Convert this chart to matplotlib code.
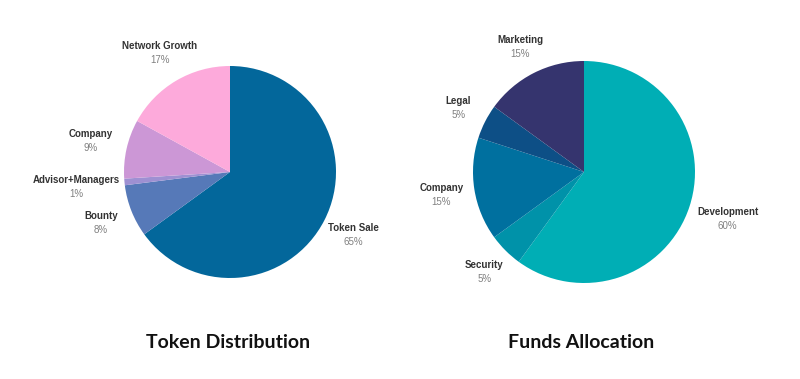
import numpy as np
import matplotlib
matplotlib.use("Agg")
import matplotlib.pyplot as plt

# --- data ---
token_labels = ["Token Sale", "Bounty", "Advisor+Managers", "Company", "Network Growth"]
token_values = [65, 8, 1, 9, 17]
token_colors = ["#03679b", "#5679b8", "#9e90d2", "#cc97d6", "#fdaadb"]

funds_labels = ["Development", "Security", "Company", "Legal", "Marketing"]
funds_values = [60, 5, 15, 5, 15]
funds_colors = ["#00aeb5", "#0092a9", "#00709f", "#0d4f86", "#35346e"]

W, H = 800, 379
fig = plt.figure(figsize=(W / 100, H / 100), dpi=100)
ax = fig.add_axes([0, 0, 1, 1])


def draw_pie(values, labels, colors, cx, cy, r, dists, title, tx):
    wedges, _ = ax.pie(values, colors=colors, startangle=90, counterclock=False,
                       center=(cx, H - cy), radius=r, frame=True,
                       wedgeprops=dict(linewidth=0))
    for w, lab, v, d in zip(wedges, labels, values, dists):
        ang = np.deg2rad((w.theta1 + w.theta2) / 2)
        x = cx + r * d * np.cos(ang)
        y = H - cy + r * d * np.sin(ang)
        ax.text(x, y + 7, lab, ha="center", va="center", fontsize=7,
                fontweight="bold", color="#333333", family="Liberation Sans")
        ax.text(x, y - 7, f"{v}%", ha="center", va="center", fontsize=7,
                color="#808080", family="Liberation Sans")
    ax.text(tx, H - 342, title, ha="center", va="center", fontsize=14,
            fontweight="bold", color="#111111", family="Lato")


draw_pie(token_values, token_labels, token_colors, 230, 172, 106,
         [1.31, 1.31, 1.46, 1.35, 1.30], "Token Distribution", 228)
draw_pie(funds_values, funds_labels, funds_colors, 584, 172, 111,
         [1.36, 1.27, 1.30, 1.27, 1.26], "Funds Allocation", 581)

ax.set_xlim(0, W)
ax.set_ylim(0, H)
ax.set_aspect("equal")
ax.axis("off")

fig.savefig("out.png", dpi=100, facecolor="white")
